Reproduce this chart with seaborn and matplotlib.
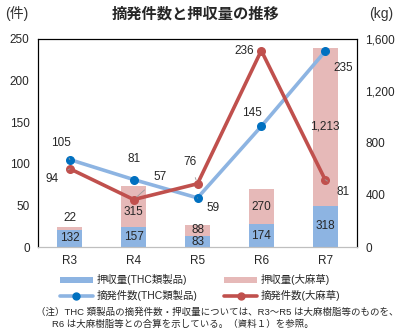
import matplotlib
matplotlib.use("Agg")
import matplotlib.pyplot as plt
import seaborn as sns
import pandas as pd
from matplotlib.lines import Line2D
from matplotlib.patches import Patch
from matplotlib.ticker import FuncFormatter

sns.set_style("white")
plt.rcParams['font.family'] = ['Liberation Sans', 'Noto Sans CJK JP', 'DejaVu Sans']

years = ["R3", "R4", "R5", "R6", "R7"]
seized_thc = [132, 157, 83, 174, 318]       # kg
seized_cannabis = [22, 315, 88, 270, 1213]  # kg
cases_thc = [105, 81, 59, 145, 235]
cases_cannabis = [94, 57, 76, 236, 81]

c_bar_thc = "#8DB4E2"
c_bar_can = "#E6B9B8"
c_line_thc = "#8DB4E2"
c_mark_thc = "#0070C0"
c_line_can = "#C0504D"

df = pd.DataFrame({
    "year": years,
    "thc": seized_thc,
    "can": seized_cannabis,
    "total": [a + b for a, b in zip(seized_thc, seized_cannabis)],
    "cases_thc": cases_thc,
    "cases_can": cases_cannabis,
    "x": list(range(len(years))),
})

fig = plt.figure(figsize=(4.0, 3.3), dpi=100)
ax = fig.add_axes([0.095, 0.2515, 0.7975, 0.6305])  # kg axis (bars)

sns.barplot(data=df, x="year", y="total", color=c_bar_can, width=0.39,
            saturation=1, ax=ax, zorder=1, linewidth=0)
sns.barplot(data=df, x="year", y="thc", color=c_bar_thc, width=0.39,
            saturation=1, ax=ax, zorder=2, linewidth=0)
ax.set_ylim(0, 1600)
ax.set_xlim(-0.5, 4.5)
ax.set_xlabel("")
ax.set_ylabel("")

# bar labels
for i in range(len(years)):
    t = df["thc"][i]
    c = df["can"][i]
    ax.text(i, t / 2, f"{t:,}", ha="center", va="center", fontsize=8.5, zorder=5)
    if i == 0:
        ax.text(i, t + c + 70, f"{c:,}", ha="center", va="center", fontsize=8.5, zorder=5)
    elif i == 1:
        ax.text(i, t + c / 2 - 45, f"{c:,}", ha="center", va="center", fontsize=8.5, zorder=5)
    else:
        ax.text(i, t + c / 2, f"{c:,}", ha="center", va="center", fontsize=8.5, zorder=5)

ax2 = ax.twinx()
sns.lineplot(data=df, x="x", y="cases_thc", color=c_line_thc, linewidth=2.6,
             ax=ax2, zorder=3)
ax2.scatter(df["x"], df["cases_thc"], s=30, color=c_mark_thc, zorder=4)
sns.lineplot(data=df, x="x", y="cases_can", color=c_line_can, linewidth=2.6,
             ax=ax2, zorder=3)
ax2.scatter(df["x"], df["cases_can"], s=30, color=c_line_can, zorder=4)
ax2.set_ylim(0, 250)
ax2.set_xlim(-0.5, 4.5)
ax2.set_xlabel("")
ax2.set_ylabel("")

# right axis: kg (bars); left axis: cases (lines)
ax.yaxis.tick_right()
ax.set_yticks([0, 400, 800, 1200, 1600])
ax.yaxis.set_major_formatter(FuncFormatter(lambda v, p: f"{int(v):,}"))
ax.tick_params(axis="both", length=0, labelsize=8.5, pad=6)
ax2.yaxis.tick_left()
ax2.set_yticks([0, 50, 100, 150, 200, 250])
ax2.tick_params(axis="both", length=0, labelsize=8.5, pad=6)
ax2.tick_params(axis="x", labelbottom=False)

for a in (ax, ax2):
    for s in ("top", "left", "right"):
        a.spines[s].set_color("black")
        a.spines[s].set_linewidth(0.8)
    a.spines["bottom"].set_color("#BFBFBF")
    a.spines["bottom"].set_linewidth(0.8)

gray = "#9A9A9A"
def lab(vals, i, dx, dy, leader=True):
    v = vals[i]
    ax2.annotate(f"{v}", xy=(i, v), xytext=(dx, dy), textcoords="offset pixels",
                 ha="center", va="center", fontsize=8.5, zorder=6,
                 arrowprops=dict(arrowstyle="-", color=gray, lw=0.6,
                                 shrinkA=5, shrinkB=3) if leader else None)

lab(cases_thc, 0, -9, 17)
lab(cases_cannabis, 0, -18, -10)
lab(cases_thc, 1, 0, 21, leader=False)
lab(cases_cannabis, 1, 26, 23)
lab(cases_cannabis, 2, -8, 22)
lab(cases_thc, 2, 16, -10)
lab(cases_cannabis, 3, -17, 0, leader=False)
lab(cases_thc, 3, -9, 13, leader=False)
lab(cases_thc, 4, 18, -17)
lab(cases_cannabis, 4, 18, -12)

fig.text(0.49, 0.958, "摘発件数と押収量の推移", ha="center", va="center",
         fontsize=11, fontweight="bold")
fig.text(0.042, 0.958, "(件)", ha="center", va="center", fontsize=10, color="#333333")
fig.text(0.953, 0.958, "(kg)", ha="center", va="center", fontsize=10, color="#333333")

handles = [
    Patch(facecolor=c_bar_thc, edgecolor="none", label="押収量(THC類製品)"),
    Line2D([0], [0], color=c_line_thc, lw=2.6, marker="o", markersize=5,
           markerfacecolor=c_mark_thc, markeredgecolor=c_mark_thc,
           label="摘発件数(THC類製品)"),
    Patch(facecolor=c_bar_can, edgecolor="none", label="押収量(大麻草)"),
    Line2D([0], [0], color=c_line_can, lw=2.6, marker="o", markersize=5,
           markerfacecolor=c_line_can, markeredgecolor=c_line_can,
           label="摘発件数(大麻草)"),
]
fig.legend(handles=handles, loc="center", bbox_to_anchor=(0.5, 0.128), ncol=2,
           frameon=False, fontsize=7.5, handlelength=3.2, handleheight=0.45,
           columnspacing=2.6, labelspacing=0.45, handletextpad=0.3)

fig.text(0.09, 0.055, "（注）THC 類製品の摘発件数・押収量については、R3～R5 は大麻樹脂等のものを、",
         ha="left", va="center", fontsize=6.8)
fig.text(0.13, 0.018, "R6 は大麻樹脂等との合算を示している。（資料１）を参照。",
         ha="left", va="center", fontsize=6.8)

fig.savefig("out.png", dpi=100)
